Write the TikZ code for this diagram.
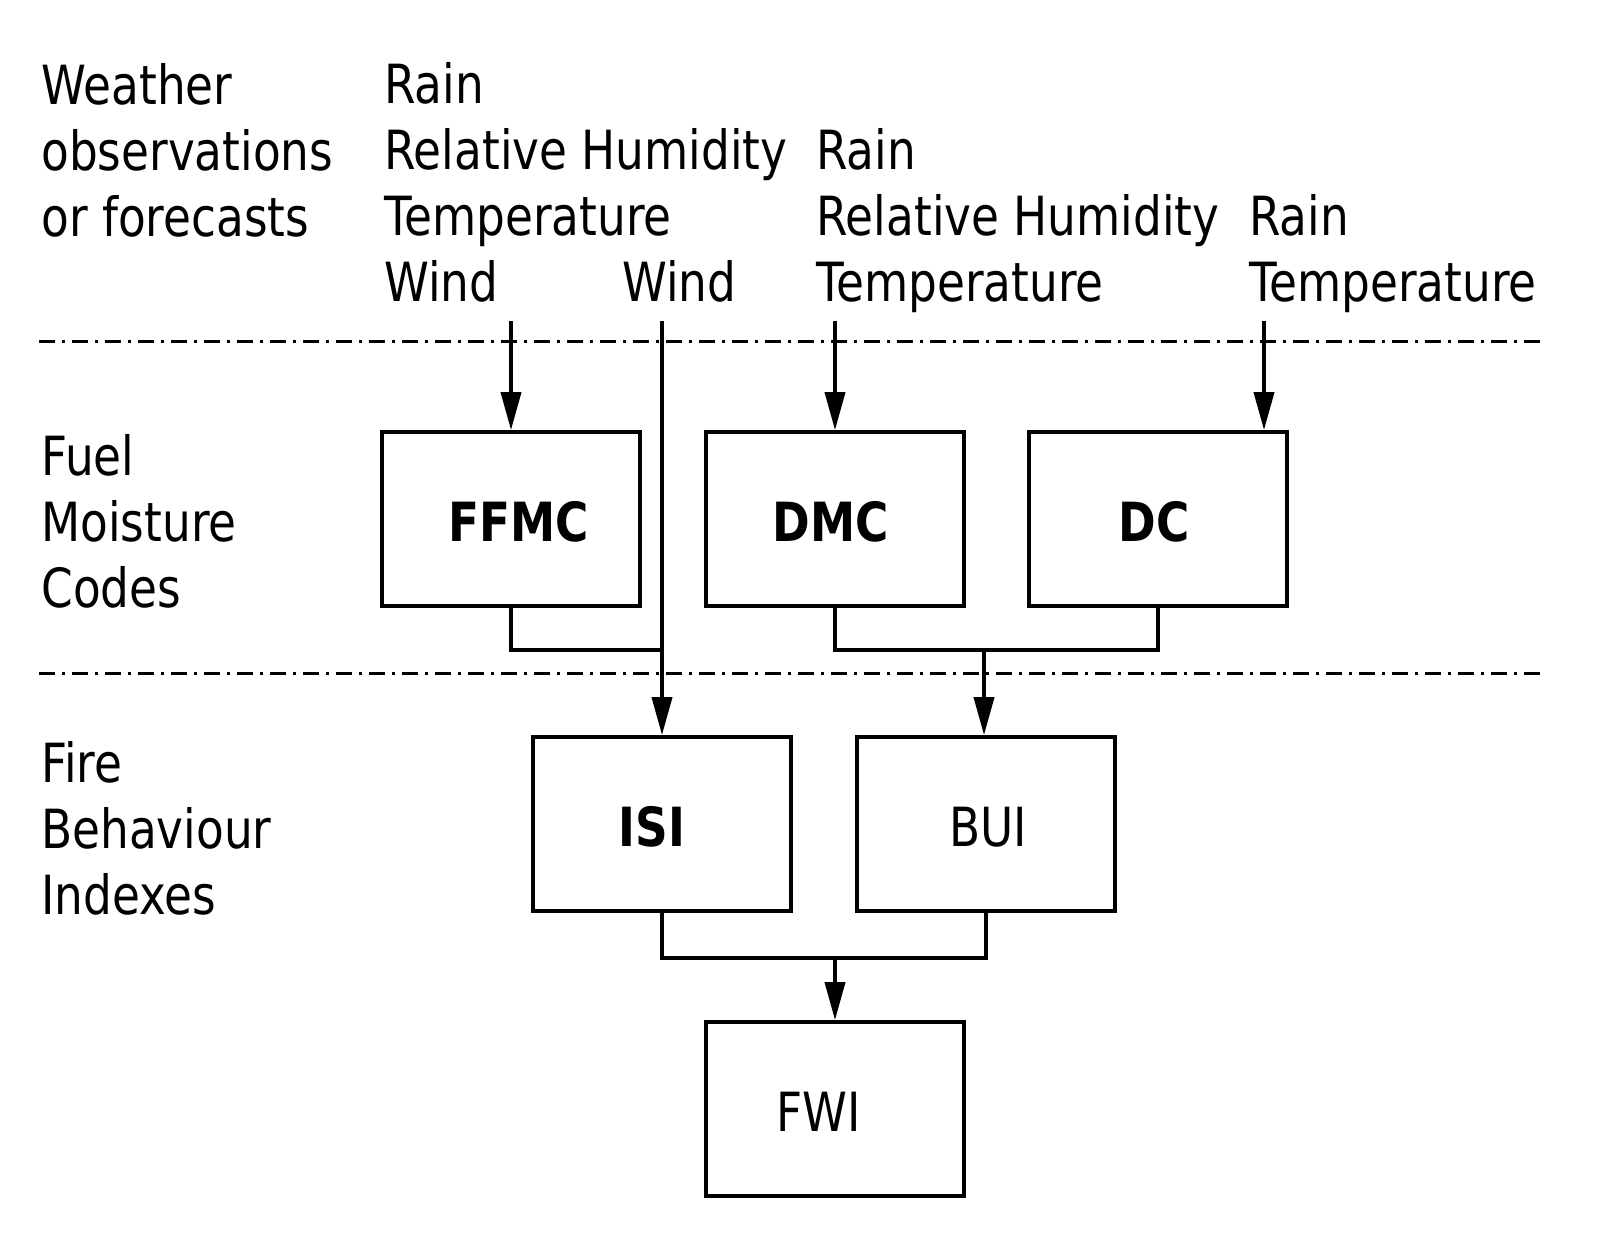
\documentclass[tikz,border=0pt]{standalone}
\usepackage{fontspec}
\setmainfont{DejaVu Sans}[FakeStretch=0.84]
\usetikzlibrary{arrows.meta}
\tikzset{
	txt/.style={anchor=base west, inner sep=0pt, align=left, font=\fontsize{27}{33}\selectfont},
	codebox/.style={draw, line width=1.9pt, minimum width=129pt, minimum height=87pt, inner sep=0pt},
	codelabel/.style={inner sep=0pt, font=\fontsize{27}{33}\selectfont},
	flow/.style={line width=1.9pt},
	flowarrow/.style={flow, -{Triangle[length=19pt, width=10pt]}},
	divider/.style={line width=1.5pt, dash pattern=on 8pt off 3.5pt on 1.5pt off 3.5pt}
}
\begin{document}
\begin{tikzpicture}[x=0.5pt, y=-0.5pt]
			\useasboundingbox (0,0) rectangle (1622,1244);
			\node[txt] (weather) at (41,236) {Weather\\observations\\or forecasts};
			\node[txt] (ffmcin) at (384,301) {Rain\\Relative Humidity\\Temperature\\Wind};
			\node[txt] (isiin) at (622,301) {Wind};
			\node[txt] (dmcin) at (816,301) {Rain\\Relative Humidity\\Temperature};
			\node[txt] (dcin) at (1249,301) {Rain\\Temperature};
			\node[txt] (fuel) at (41,607) {Fuel\\Moisture\\Codes};
			\node[txt] (fire) at (41,914) {Fire\\Behaviour\\Indexes};
			\draw[divider] (39,341) -- (1543,341);
			\draw[divider] (39,673) -- (1543,673);
			\foreach \coord/\name/\dx/\lbl in {
				{511,519}/ffmc/4pt/{\textbf{FFMC}},
				{835,519}/dmc/-2pt/{\textbf{DMC}},
				{1158,519}/dc/-2pt/{\textbf{DC}},
				{662,824}/isi/-5pt/{\textbf{ISI}},
				{986,824}/bui/1pt/{BUI},
				{835,1109}/fwi/-8pt/{FWI}
			}{
			\node[codebox, label={[codelabel, xshift=\dx, yshift=-1.5pt]center:\lbl}] (\name) at (\coord) {};
			}
			\coordinate (ffmctop) at (511,321);
			\coordinate (windtop) at (662,321);
			\coordinate (dmctop) at (835,321);
			\coordinate (dctop) at (1264,321);
			\coordinate (isijoin) at (662,650);
			\coordinate (buijoin) at (984,650);
			\coordinate (fwijoin) at (835,958);
			\draw[flowarrow] (ffmctop) -- (ffmc.north);
			\draw[flowarrow] (windtop) -- (isi.north);
			\draw[flowarrow] (dmctop) -- (dmc.north);
			\draw[flowarrow] (dctop) -- (dctop |- dc.north);
			\draw[flow] (ffmc.south) |- (isijoin);
			\draw[flow] (dmc.south) |- (buijoin) -| (dc.south);
			\draw[flowarrow] (buijoin) -- (buijoin |- bui.north);
			\draw[flow] (isi.south) |- (fwijoin) -| (bui.south);
			\draw[flowarrow] (fwijoin) -- (fwi.north);
\end{tikzpicture}
\end{document}
